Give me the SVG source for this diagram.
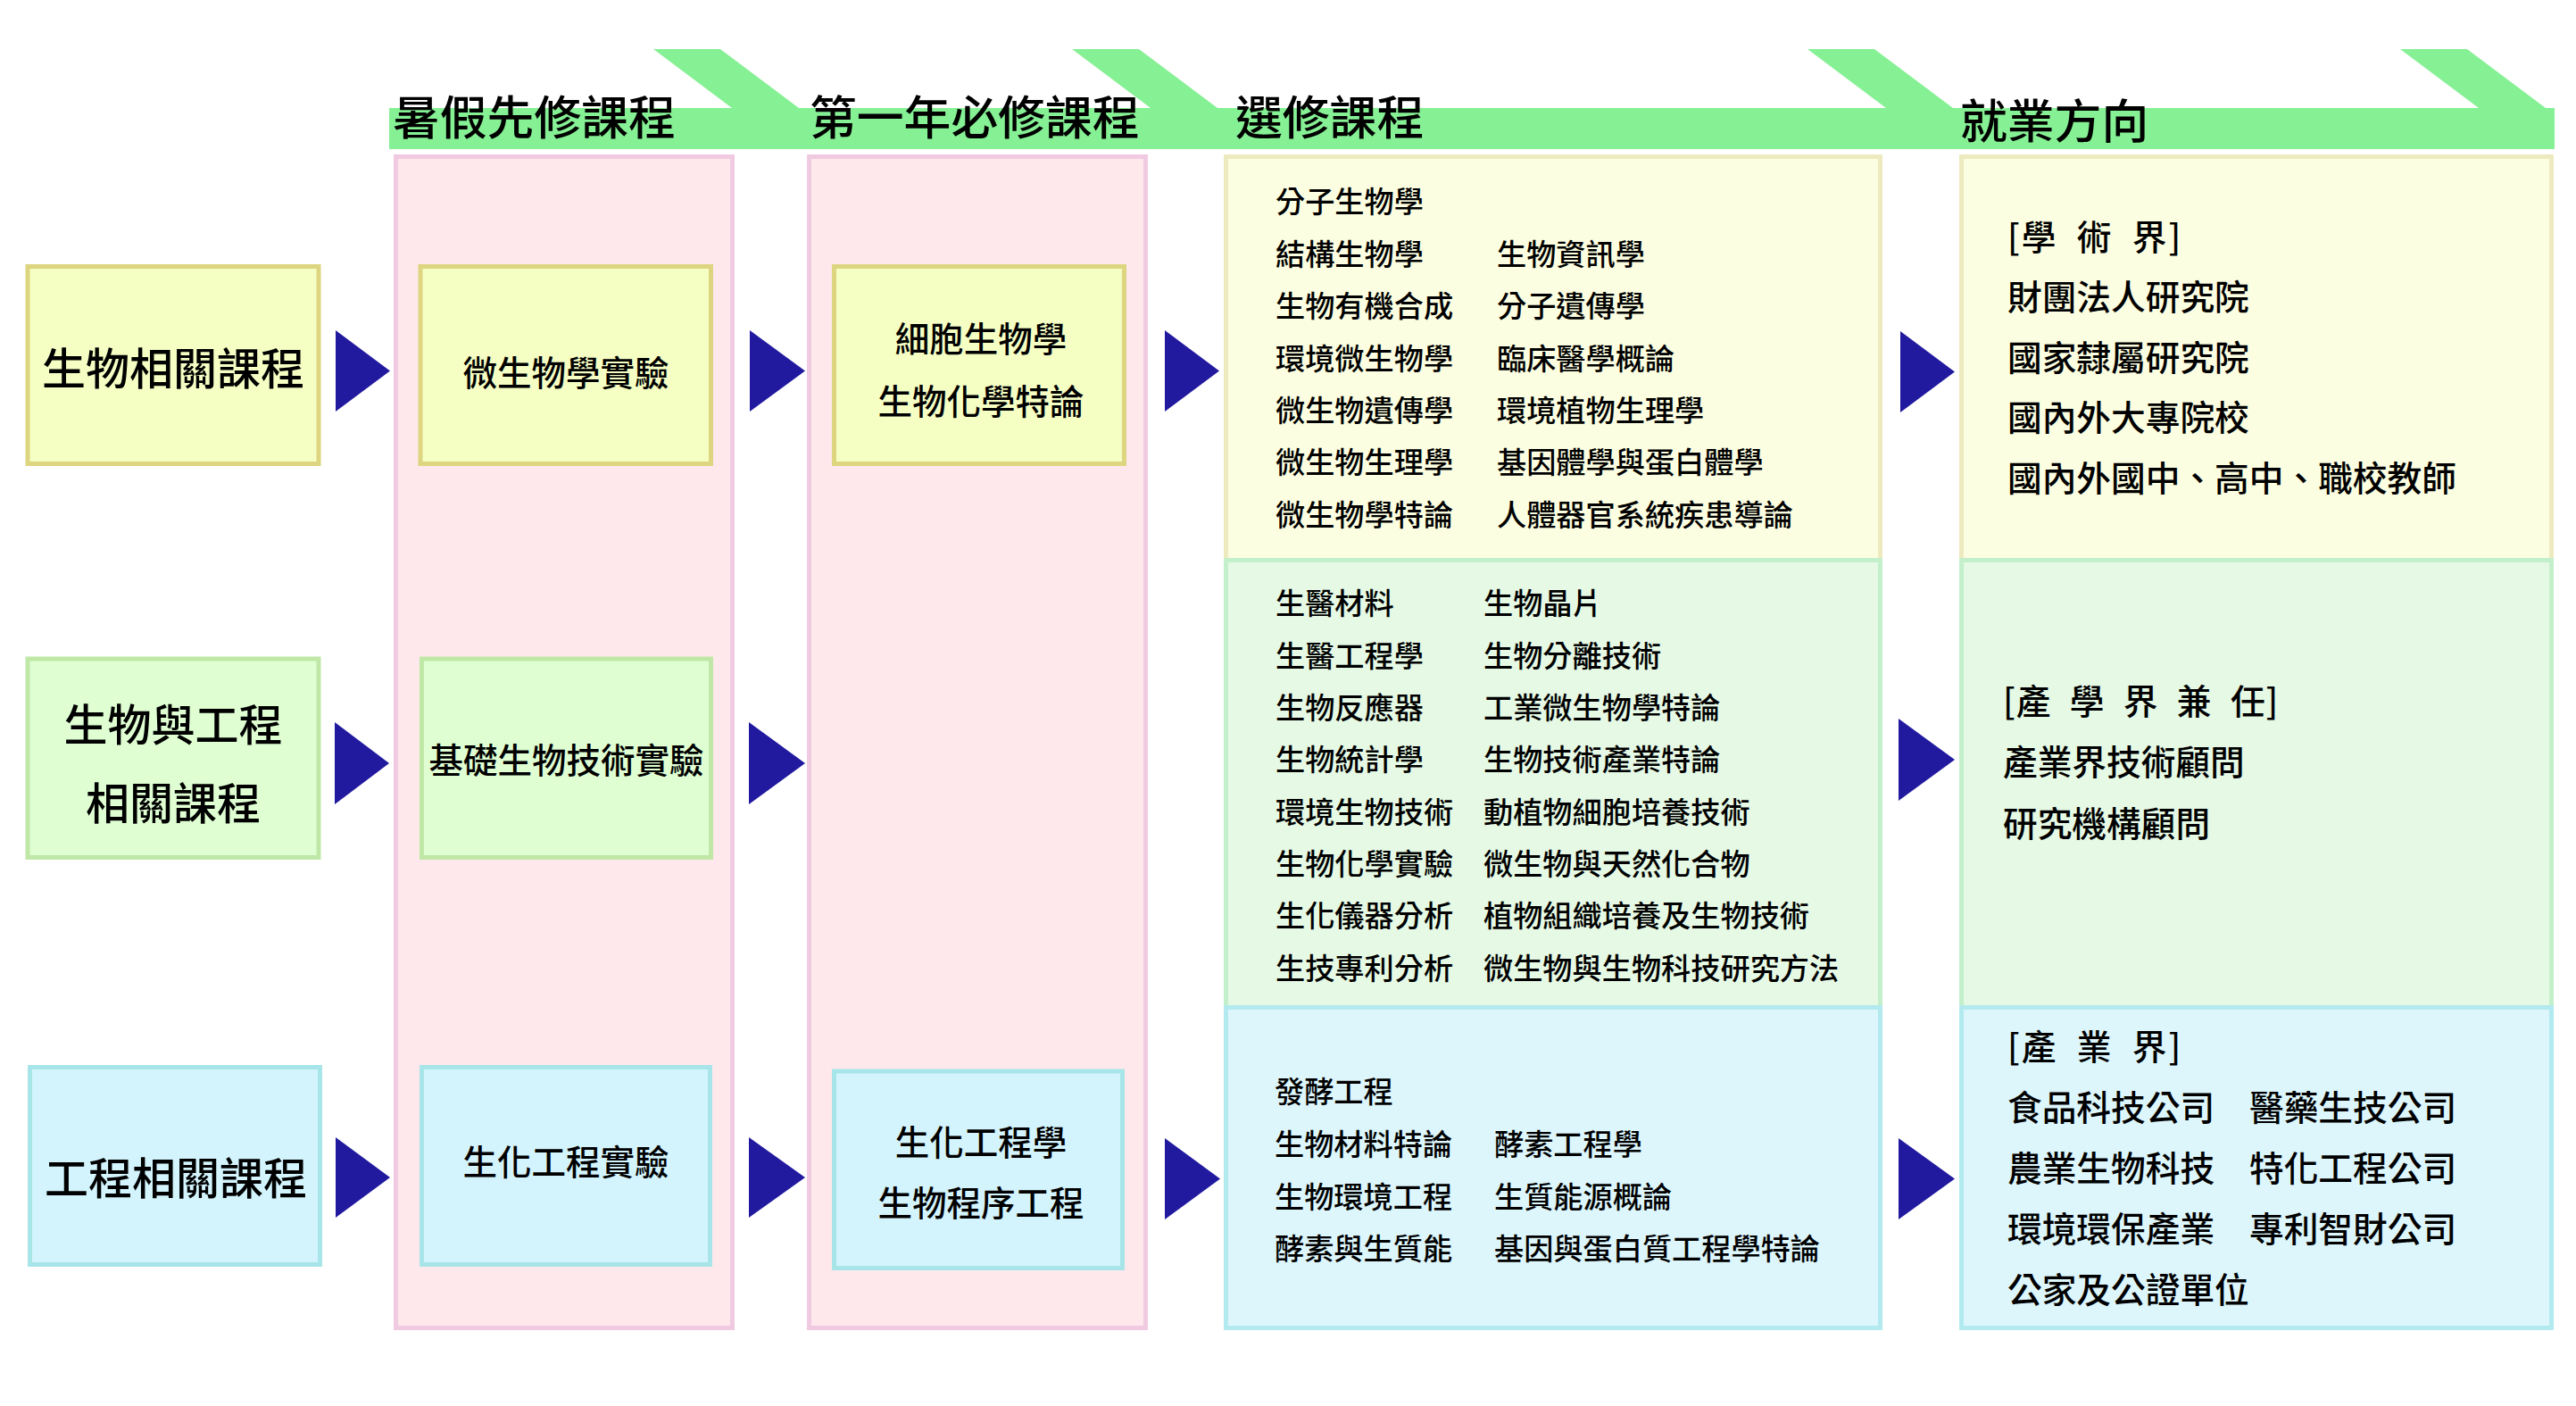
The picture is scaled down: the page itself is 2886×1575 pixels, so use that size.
<svg xmlns="http://www.w3.org/2000/svg" width="2886" height="1575" viewBox="0 0 2886 1575">
<style>
.t{font-family:"Noto Sans CJK TC","Noto Sans CJK SC",sans-serif;fill:#000;font-weight:500}
.h{font-size:52.8px}
.l{font-size:49px;text-anchor:middle}
.m{font-size:38.5px;text-anchor:middle}
.s{font-size:33.2px}
.c{font-size:38.7px}
.br{letter-spacing:2px}
.br1{letter-spacing:1px}
.ban{fill:#86F095}
.pink{fill:#FFE8EC;stroke:#F0CAE0;stroke-width:5}
.ny{fill:#F5FFC3;stroke:#DDD580;stroke-width:5}
.ng{fill:#DFFFD3;stroke:#BFE8A7;stroke-width:5}
.nb{fill:#D3F4FD;stroke:#A7E5E9;stroke-width:5}
.sy{fill:#FBFEE1;stroke:#EEEABF;stroke-width:5}
.sg{fill:#E5F9E5;stroke:#C3F0CB;stroke-width:5}
.sb{fill:#DCF6FC;stroke:#B3EAEF;stroke-width:5}
.arr{fill:#211A9F}
</style>
<rect width="2886" height="1575" fill="#fff"/>
<g id="banner">
<rect class="ban" x="436" y="121" width="2426" height="46"/>
<polygon class="ban" points="732,55 807,55 895,121 820,121"/>
<polygon class="ban" points="1201,55 1276,55 1364,121 1289,121"/>
<polygon class="ban" points="2025,55 2100,55 2188,121 2113,121"/>
<polygon class="ban" points="2689,55 2764,55 2862,128.5 2862,167 2777,167 2777,121"/>
<text class="t h" x="440" y="151">暑假先修課程</text>
<text class="t h" x="907" y="151">第一年必修課程</text>
<text class="t h" x="1384" y="150.5">選修課程</text>
<text class="t h" x="2196" y="155">就業方向</text>
</g>
<g id="panel-summer"><rect class="pink" x="443.5" y="175.5" width="377" height="1312"/></g>
<g id="panel-first-year"><rect class="pink" x="906.5" y="175.5" width="377" height="1312"/></g>
<g id="elective-bio">
<rect class="sy" x="1373.5" y="175.5" width="733" height="452"/>
<text class="t s" x="1429" y="238">分子生物學</text>
<text class="t s" x="1429" y="296.5">結構生物學</text><text class="t s" x="1677" y="296.5">生物資訊學</text>
<text class="t s" x="1429" y="355">生物有機合成</text><text class="t s" x="1677" y="355">分子遺傳學</text>
<text class="t s" x="1429" y="413.5">環境微生物學</text><text class="t s" x="1677" y="413.5">臨床醫學概論</text>
<text class="t s" x="1429" y="472">微生物遺傳學</text><text class="t s" x="1677" y="472">環境植物生理學</text>
<text class="t s" x="1429" y="530">微生物生理學</text><text class="t s" x="1677" y="530">基因體學與蛋白體學</text>
<text class="t s" x="1429" y="588.5">微生物學特論</text><text class="t s" x="1677" y="588.5">人體器官系統疾患導論</text>
</g>
<g id="elective-bioeng">
<rect class="sg" x="1373.5" y="627.5" width="733" height="501"/>
<text class="t s" x="1429" y="688">生醫材料</text><text class="t s" x="1662" y="688">生物晶片</text>
<text class="t s" x="1429" y="746.5">生醫工程學</text><text class="t s" x="1662" y="746.5">生物分離技術</text>
<text class="t s" x="1429" y="805">生物反應器</text><text class="t s" x="1662" y="805">工業微生物學特論</text>
<text class="t s" x="1429" y="863">生物統計學</text><text class="t s" x="1662" y="863">生物技術產業特論</text>
<text class="t s" x="1429" y="921.5">環境生物技術</text><text class="t s" x="1662" y="921.5">動植物細胞培養技術</text>
<text class="t s" x="1429" y="980">生物化學實驗</text><text class="t s" x="1662" y="980">微生物與天然化合物</text>
<text class="t s" x="1429" y="1038">生化儀器分析</text><text class="t s" x="1662" y="1038">植物組織培養及生物技術</text>
<text class="t s" x="1429" y="1096.5">生技專利分析</text><text class="t s" x="1662" y="1096.5">微生物與生物科技研究方法</text>
</g>
<g id="elective-eng">
<rect class="sb" x="1373.5" y="1128.5" width="733" height="359"/>
<text class="t s" x="1428" y="1235">發酵工程</text>
<text class="t s" x="1428" y="1294">生物材料特論</text><text class="t s" x="1674" y="1294">酵素工程學</text>
<text class="t s" x="1428" y="1353">生物環境工程</text><text class="t s" x="1674" y="1353">生質能源概論</text>
<text class="t s" x="1428" y="1411">酵素與生質能</text><text class="t s" x="1674" y="1411">基因與蛋白質工程學特論</text>
</g>
<g id="career-academia">
<rect class="sy" x="2197.5" y="175.5" width="661" height="452"/>
<text class="t c br" x="2249" y="280">[學&#8194;術&#8194;界]</text>
<text class="t c" x="2249" y="347">財團法人研究院</text>
<text class="t c" x="2249" y="414.5">國家隸屬研究院</text>
<text class="t c" x="2249" y="482">國內外大專院校</text>
<text class="t c" x="2249" y="549.5">國內外國中、高中、職校教師</text>
</g>
<g id="career-consult">
<rect class="sg" x="2197.5" y="627.5" width="661" height="501"/>
<text class="t c br1" x="2244" y="800">[產&#8194;學&#8194;界&#8194;兼&#8194;任]</text>
<text class="t c" x="2244" y="868">產業界技術顧問</text>
<text class="t c" x="2244" y="936.5">研究機構顧問</text>
</g>
<g id="career-industry">
<rect class="sb" x="2197.5" y="1128.5" width="661" height="359"/>
<text class="t c br" x="2249" y="1187">[產&#8194;業&#8194;界]</text>
<text class="t c" x="2249" y="1255">食品科技公司</text><text class="t c" x="2520" y="1255">醫藥生技公司</text>
<text class="t c" x="2249" y="1323">農業生物科技</text><text class="t c" x="2520" y="1323">特化工程公司</text>
<text class="t c" x="2249" y="1391">環境環保產業</text><text class="t c" x="2520" y="1391">專利智財公司</text>
<text class="t c" x="2249" y="1459">公家及公證單位</text>
</g>
<g id="node-bio"><rect class="ny" x="31" y="298.5" width="326" height="221"/><text class="t l" x="194" y="430.5">生物相關課程</text></g>
<g id="node-bioeng"><rect class="ng" x="31" y="738" width="326" height="222.5"/><text class="t l" x="194" y="830">生物與工程</text><text class="t l" x="194" y="918">相關課程</text></g>
<g id="node-eng"><rect class="nb" x="33.5" y="1195.5" width="325" height="221"/><text class="t l" x="197" y="1338">工程相關課程</text></g>
<g id="node-micro-lab"><rect class="ny" x="471" y="298.5" width="325.5" height="221"/><text class="t m" x="634" y="431.5">微生物學實驗</text></g>
<g id="node-biotech-lab"><rect class="ng" x="472.5" y="738" width="324" height="222.5"/><text class="t m" x="634.5" y="865.5">基礎生物技術實驗</text></g>
<g id="node-bioeng-lab"><rect class="nb" x="472.5" y="1195.5" width="323" height="221"/><text class="t m" x="634" y="1315.5">生化工程實驗</text></g>
<g id="node-cellbio"><rect class="ny" x="934.5" y="298.5" width="325" height="221"/><text class="t m" x="1099" y="393.5">細胞生物學</text><text class="t m" x="1099" y="463.5">生物化學特論</text></g>
<g id="node-bioprocess"><rect class="nb" x="934.5" y="1200" width="323" height="220.5"/><text class="t m" x="1099" y="1293.5">生化工程學</text><text class="t m" x="1099" y="1361.5">生物程序工程</text></g>
<g id="connectors">
<polygon class="arr" points="376,370 376,461 437,415.5"/>
<polygon class="arr" points="840,370 840,461 902,415.5"/>
<polygon class="arr" points="1305,370 1305,461 1366,415.5"/>
<polygon class="arr" points="2129,371 2129,462 2190,416.5"/>
<polygon class="arr" points="375,809 375,901 436,855"/>
<polygon class="arr" points="839,809 839,901 902,855"/>
<polygon class="arr" points="2127,805 2127,897 2190,851"/>
<polygon class="arr" points="376,1274 376,1364 437,1319"/>
<polygon class="arr" points="839,1274 839,1364 902,1319"/>
<polygon class="arr" points="1305,1275 1305,1366 1367,1320.5"/>
<polygon class="arr" points="2127,1275 2127,1366 2190,1320.5"/>
</g>
</svg>
